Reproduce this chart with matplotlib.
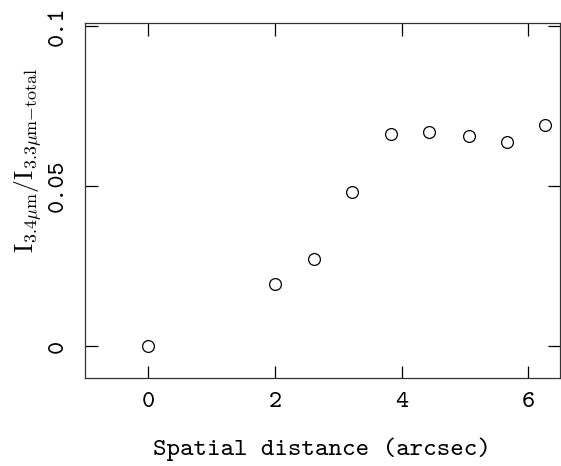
import matplotlib.pyplot as plt
import numpy as np

plt.rcParams['font.family'] = ['cmtt10', 'DejaVu Serif']
plt.rcParams['mathtext.fontset'] = 'cm'

# spatial distance (arcsec) and 3.4/3.3 um intensity ratio
distance = [0.0, 2.0, 2.61, 3.21, 3.84, 4.44, 5.06, 5.67, 6.27]
ratio = [0.0, 0.0194, 0.0272, 0.0481, 0.0663, 0.0669, 0.0656, 0.0638, 0.0690]

x_ticks = [0, 2, 4, 6]
y_ticks = [0, 0.05, 0.1]
y_ticklabels = ['0', '0.05', '0.1']

fig = plt.figure(figsize=(5.61, 4.66), dpi=100)
ax = fig.add_axes([0.1515, 0.1888, 0.8465, 0.7618])

ax.plot(distance, ratio, linestyle='none', marker='o', markersize=8.5,
        markerfacecolor='none', markeredgecolor='black', markeredgewidth=0.9)

ax.set_xlim(-1, 6.5)
ax.set_ylim(-0.01, 0.101)
ax.set_xticks(x_ticks)
ax.set_xticklabels([str(t) for t in x_ticks])
ax.set_yticks(y_ticks)
ax.set_yticklabels(y_ticklabels, rotation=90, va='center')

ax.tick_params(direction='in', length=9, width=0.9, top=True, right=True,
               labelsize=18)
ax.tick_params(axis='x', pad=10)
ax.tick_params(axis='y', pad=12)
for s in ax.spines.values():
    s.set_linewidth(0.9)
    s.set_color('#333333')

ax.set_xlabel('Spatial distance (arcsec)', fontsize=18.5, labelpad=18)

# y label sits above the axes centre in the original
fig.text(28 / 561, 1 - 160 / 466,
         r'$\mathrm{I}_{3.4\mu\mathrm{m}}/\mathrm{I}_{3.3\mu\mathrm{m{-}total}}$',
         rotation=90, ha='center', va='center', fontsize=18.5)

fig.savefig('out.png', dpi=100)
